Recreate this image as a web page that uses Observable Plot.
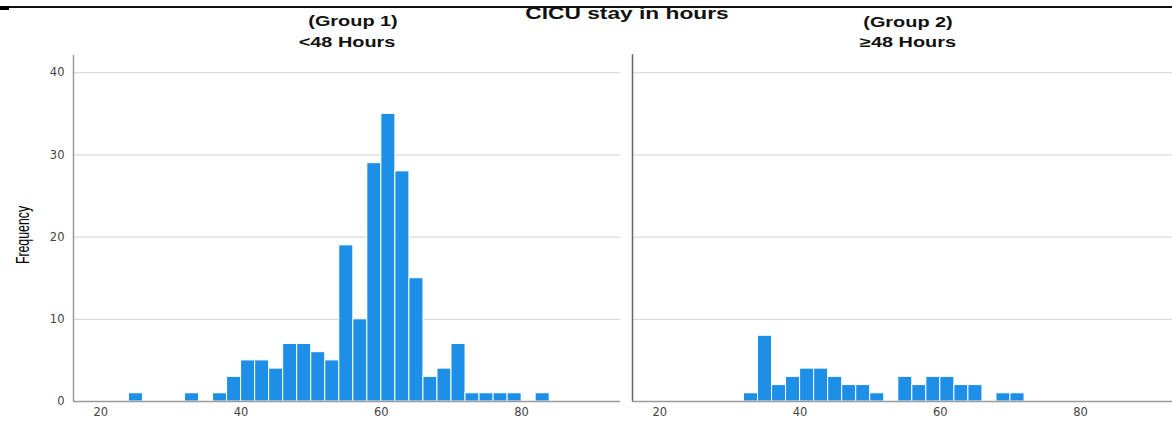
<!DOCTYPE html>
<html>
<head>
<meta charset="utf-8">
<script src="https://cdn.jsdelivr.net/npm/d3@7"></script>
<script src="https://cdn.jsdelivr.net/npm/@observablehq/plot@0.6"></script>
<style>
  html, body { margin: 0; padding: 0; background: white; }
  #wrap { position: relative; width: 1172px; height: 421px; overflow: hidden; background: white; }
  #wrap svg { position: absolute; left: 0; top: 0; max-width: none !important; }
  .lbl { position: absolute; white-space: nowrap; font-family: "Liberation Sans", Arial, sans-serif; font-weight: bold; color: #111; }
</style>
</head>
<body>
<div id="wrap"></div>
<script>
// ---- data ----
const title = "CICU stay in hours";
const groupNames = ["(Group 1)", "(Group 2)"];
const groupSubtitles = ["<48 Hours", "\u226548 Hours"];
const yLabel = "Frequency";
const binWidth = 2;
const binStarts = [24, 26, 28, 30, 32, 34, 36, 38, 40, 42, 44, 46, 48, 50, 52, 54, 56, 58, 60, 62, 64, 66, 68, 70, 72, 74, 76, 78, 80, 82];
const group1Counts = [1, 0, 0, 0, 1, 0, 1, 3, 5, 5, 4, 7, 7, 6, 5, 19, 10, 29, 35, 28, 15, 3, 4, 7, 1, 1, 1, 1, 0, 1];
const group2Counts = [0, 0, 0, 0, 1, 8, 2, 3, 4, 4, 3, 2, 2, 1, 0, 3, 2, 3, 3, 2, 2, 0, 1, 1, 0, 0, 0, 0, 0, 0];
const xTicks = [20, 40, 60, 80];
const yTicks = [0, 10, 20, 30, 40];
const gridTicks = [10, 20, 30, 40];
const xDomain = [16.1, 94.1];
const yDomain = [0, 42.1];

// ---- table for the library ----
const groupKeys = ["g1", "g2"];
const countsByGroup = [group1Counts, group2Counts];
const rows = [];
groupKeys.forEach((g, gi) => {
  binStarts.forEach((s, i) => {
    const c = countsByGroup[gi][i];
    if (c > 0) rows.push({group: g, x1: s, x2: s + binWidth, count: c});
  });
});

const blue = "#1E8FE6";
const chart = Plot.plot({
  width: 1179,
  height: 421,
  marginLeft: 73,
  marginRight: 0,
  marginTop: 55,
  marginBottom: 20,
  style: {fontFamily: "DejaVu Sans, sans-serif", fontSize: "11.5px", color: "#444", background: "transparent", overflow: "visible", maxWidth: "none"},
  fx: {domain: groupKeys, paddingInner: 12 / 559, paddingOuter: 0, round: false, axis: null, label: null},
  x: {domain: xDomain, ticks: xTicks, tickSize: 0, tickPadding: 6, label: null},
  y: {domain: yDomain, ticks: yTicks, tickSize: 0, tickPadding: 9, label: null},
  marks: [
    Plot.ruleY(gridTicks, {stroke: "#d2d2d2", strokeWidth: 1}),
    Plot.rectY(rows, {fx: "group", x1: "x1", x2: "x2", y: "count", fill: blue, stroke: "white", strokeWidth: 1}),
    Plot.ruleY([0], {stroke: "#9a9a9a", strokeWidth: 1.5}),
    Plot.ruleX([{group: "g1"}], {fx: "group", x: () => xDomain[0], y1: () => 0, y2: () => yDomain[1], stroke: "#9a9a9a", strokeWidth: 1.5}),
    Plot.ruleX([{group: "g2"}], {fx: "group", x: () => xDomain[0], y1: () => 0, y2: () => yDomain[1] + 0.1, stroke: "#666", strokeWidth: 1.5})
  ]
});
chart.style.maxWidth = "none";

const wrap = document.getElementById("wrap");
wrap.appendChild(chart);

// decorative top rule
const topLine = document.createElement("div");
topLine.style.cssText = "position:absolute;left:8px;top:6px;width:1164px;height:1.5px;background:#111;";
wrap.appendChild(topLine);
const topBlock = document.createElement("div");
topBlock.style.cssText = "position:absolute;left:0;top:6px;width:9px;height:4px;background:#000;";
wrap.appendChild(topBlock);

function addLabel(text, cx, cy, size, sx) {
  const d = document.createElement("div");
  d.className = "lbl";
  d.textContent = text;
  d.style.left = cx + "px";
  d.style.top = cy + "px";
  d.style.fontSize = size + "px";
  d.style.transform = "translate(-50%, -50%) scaleX(" + sx + ")";
  wrap.appendChild(d);
}
addLabel(title, 627, 14, 16, 1.42);
addLabel(groupNames[0], 353, 21, 14, 1.42);
addLabel(groupSubtitles[0], 347, 42, 14, 1.42);
addLabel(groupNames[1], 908, 22, 14, 1.42);
addLabel(groupSubtitles[1], 908, 42, 14, 1.42);

// y-axis title (rotated)
const yl = document.createElement("div");
yl.className = "lbl";
yl.textContent = yLabel;
yl.style.fontWeight = "normal";
yl.style.color = "#000";
yl.style.fontSize = "14px";
yl.style.left = "22px";
yl.style.top = "235px";
yl.style.transform = "translate(-50%, -50%) rotate(-90deg) scale(0.88, 1.35)";
wrap.appendChild(yl);
</script>
</body>
</html>
